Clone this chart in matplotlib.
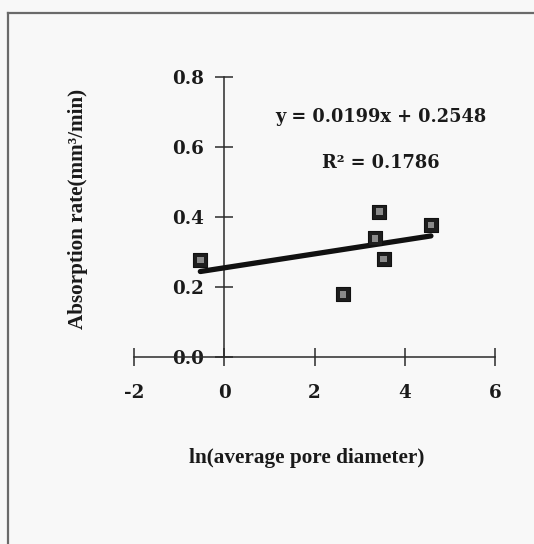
import matplotlib
matplotlib.use("Agg")
import matplotlib.pyplot as plt
from matplotlib.lines import Line2D
import numpy as np

# ln(average pore diameter) vs absorption rate
ln_diameter = [-0.53, 2.63, 3.34, 3.44, 3.53, 4.58]
absorption = [0.277, 0.179, 0.339, 0.415, 0.280, 0.377]

slope = 0.0199
intercept = 0.2548
r_squared = 0.1786

x_ticks = [-2, 0, 2, 4, 6]
y_ticks = [0.0, 0.2, 0.4, 0.6, 0.8]

tick_font = "DejaVu Serif"
label_font = "Liberation Serif"
ink = "#2b2b2b"

fig = plt.figure(figsize=(5.34, 5.44), dpi=100)
fig.patch.set_facecolor("#f8f8f8")

# frame of the original chart area (only top and left edges are in view)
fig.add_artist(Line2D([8 / 534, 1.0], [1 - 13 / 544, 1 - 13 / 544],
                      transform=fig.transFigure, color="#6a6a6a", lw=1.6))
fig.add_artist(Line2D([8 / 534, 8 / 534], [0.0, 1 - 13 / 544],
                      transform=fig.transFigure, color="#6a6a6a", lw=1.6))

ax = fig.add_axes([134 / 534, 1 - 357 / 544, 361 / 534, 280 / 544])
ax.set_facecolor("none")
ax.set_xlim(-2, 6)
ax.set_ylim(0, 0.8)

for side in ["top", "right"]:
    ax.spines[side].set_visible(False)
ax.spines["left"].set_position(("data", 0))
ax.spines["bottom"].set_position(("data", 0))
for side in ["left", "bottom"]:
    ax.spines[side].set_color(ink)
    ax.spines[side].set_linewidth(1.1)

ax.set_xticks(x_ticks)
ax.set_yticks(y_ticks)
ax.set_xticklabels([f"{t:g}" for t in x_ticks])
ax.set_yticklabels([f"{t:.1f}" for t in y_ticks])
ax.tick_params(axis="both", direction="inout", length=12.5, width=1.1,
               color=ink, labelcolor="#1a1a1a", labelsize=13.2)
ax.tick_params(axis="x", pad=13)
ax.tick_params(axis="y", pad=8)
for lbl in ax.get_xticklabels() + ax.get_yticklabels():
    lbl.set_fontfamily(tick_font)
    lbl.set_fontweight("bold")

# trend line over the data range
xs = np.array([min(ln_diameter), max(ln_diameter)])
ax.plot(xs, slope * xs + intercept, color="#111111", lw=3.8,
        solid_capstyle="round", zorder=3)

# patterned square markers: dark square with lighter centre
ax.scatter(ln_diameter, absorption, marker="s", s=100, color="#1e1e1e",
           edgecolors="#111111", linewidths=0.8, zorder=4)
ax.scatter(ln_diameter, absorption, marker="s", s=24, color="#8a8a8a",
           edgecolors="none", zorder=5)

ax.text(0.684, 0.857, f"y = {slope:.4f}x + {intercept:.4f}",
        transform=ax.transAxes, ha="center", va="center",
        fontsize=12.8, fontfamily=tick_font, fontweight="bold", color="#1a1a1a")
ax.text(0.684, 0.693, f"R\u00b2 = {r_squared:.4f}",
        transform=ax.transAxes, ha="center", va="center",
        fontsize=12.8, fontfamily=tick_font, fontweight="bold", color="#1a1a1a")

ax.set_xlabel("ln(average pore diameter)", fontfamily=label_font,
              fontweight="bold", fontsize=15.3, color="#1a1a1a")
ax.xaxis.set_label_coords(0.479, -0.325)

fig.text(78 / 534, 1 - 209 / 544, "Absorption rate(mm\u00b3/min)",
         rotation=90, ha="center", va="center", fontfamily=label_font,
         fontweight="bold", fontsize=15.2, color="#1a1a1a")

fig.savefig("out.png", dpi=100, facecolor=fig.get_facecolor())
